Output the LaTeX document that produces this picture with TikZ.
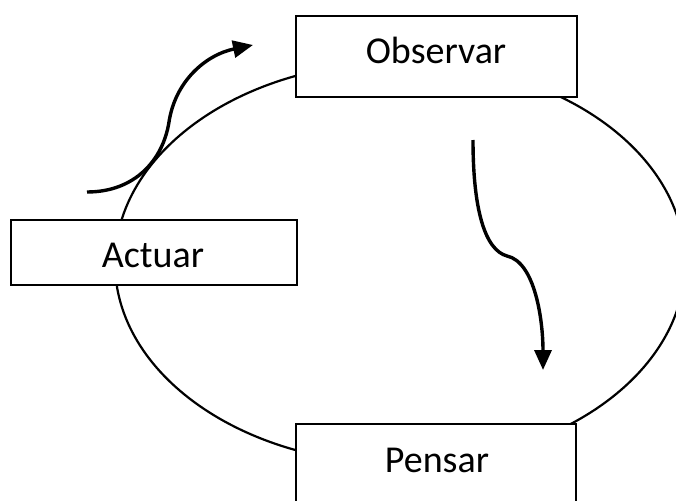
\documentclass[tikz,border=0pt]{standalone}
\usepackage{fontspec}
\setmainfont{Carlito}
\usetikzlibrary{arrows.meta}
\begin{document}
\begin{tikzpicture}[x=1pt,y=-1pt,
  box/.style={draw=black,line width=2.4pt,fill=white,inner sep=0pt},
  lbl/.style={anchor=base,inner sep=0pt,font=\fontsize{38}{42}\selectfont},
  cyc/.style={draw=black,line width=2.2pt},
  flow/.style={draw=black,line width=3.4pt,-{Triangle[length=20pt,width=17pt]}}]
\useasboundingbox (0,0) rectangle (676,500);
% cycle ellipse
\draw[cyc] (400,263) ellipse [x radius=285, y radius=201];
% boxes
\node[box,minimum width=281pt,minimum height=81pt] (obs) at (436.5,56.5) {};
\node[box,minimum width=286pt,minimum height=65pt] (act) at (154,252.5) {};
\node[box,minimum width=280pt,minimum height=90pt] (pen) at (436,469) {};
% labels
\node[lbl] (tobs) at (436,64) {Observar};
\node[lbl] (tact) at (153,267) {Actuar};
\node[lbl] (tpen) at (437,472) {Pensar};
% arrows
\coordinate (a1s) at (87,192);
\coordinate (a1m) at (169,122);
\coordinate (a1e) at (253,45);
\draw[flow] (a1s) .. controls (135,192) and (163,160) .. (a1m)
  .. controls (175,82) and (205,55) .. (a1e);
\coordinate (a2s) at (473,140);
\coordinate (a2m) at (507,256);
\coordinate (a2e) at (543,370);
\draw[flow] (a2s) .. controls (473,210) and (485,250) .. (a2m)
  .. controls (535,262) and (543,320) .. (a2e);
\end{tikzpicture}
\end{document}
